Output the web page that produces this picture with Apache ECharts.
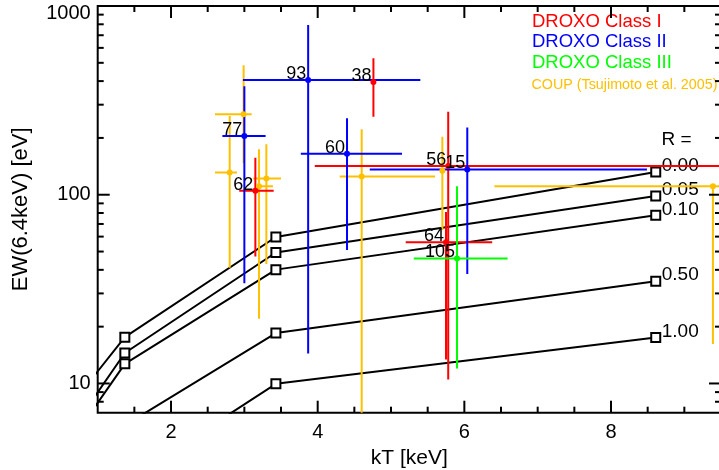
<!DOCTYPE html>
<html>
<head>
<meta charset="utf-8">
<script src="https://cdn.jsdelivr.net/npm/echarts@6/dist/echarts.min.js"></script>
<style>
  html, body { margin: 0; padding: 0; background: #fff; }
  #chart { width: 719px; height: 470px; }
</style>
</head>
<body>
<div id="chart"></div>
<script>
// rows: kT, kT lo, kT hi, EW, EW lo, EW hi, source id
var classI = [
  [4.76, 4.76, 4.76, 396, 259, 528, '38'],
  [3.15, 2.93, 3.40, 105, 47, 157, '62'],
  [5.78, 3.96, 12.0, 142, 10.5, 275, '56'],
  [5.75, 5.20, 6.38, 56, 13.4, 81, '64']
];
var classII = [
  [3.87, 2.98, 5.40, 405, 14.4, 793, '93'],
  [3.00, 2.70, 3.29, 205, 34, 376, '77'],
  [4.40, 3.77, 5.15, 165, 51, 254, '60'],
  [6.04, 4.71, 8.49, 136, 38, 227, '15']
];
var classIII = [
  [5.90, 5.31, 6.59, 46, 12, 111, '105']
];
var coup = [
  [2.99, 2.60, 3.10, 267, 147, 486],
  [2.80, 2.60, 2.90, 131, 41, 261],
  [3.30, 3.12, 3.50, 122, 43, 185],
  [3.20, 3.17, 3.39, 111, 22, 174],
  [4.60, 4.30, 5.60, 125, 5, 222],
  [5.70, 5.70, 5.70, 134, 65, 203],
  [9.39, 6.41, 12.0, 111, 16.2, 111]
];
// fluorescence models, kT of 10, 16, 40, 100 MK
var modelKT = [0.86, 1.37, 3.43, 8.61];
var modelR = ['0.00', '0.05', '0.10', '0.50', '1.00'];
var modelEW = [
  [9.9, 17.6, 59.7, 132],
  [7.5, 14.5, 49.4, 98.5],
  [6.6, 12.7, 40.1, 77.8],
  [3.2, 6.0, 18.5, 34.8],
  [1.6, 3.0, 9.96, 17.5]
];
var xMajorTicks = [2, 4, 6, 8];
var xMinorTicks = [1.5, 2.5, 3, 3.5, 4.5, 5, 5.5, 6.5, 7, 7.5, 8.5, 9];
var yMajorTicks = [10, 100, 1000];
var yMinorTicks = [8, 9, 20, 30, 40, 50, 60, 70, 80, 90, 200, 300, 400, 500, 600, 700, 800, 900];

var X_MIN = 1, X_MAX = 9.5, Y_MIN = 7, Y_MAX = 1000;
var FONT = '"Liberation Sans", Arial, sans-serif';
var RED = '#ff0000', BLUE = '#0000ff', GREEN = '#00ff00', GOLD = '#ffc000';

function errSeries(rows, color) {
  return {
    type: 'custom', clip: true, silent: true, z: 3,
    data: rows.map(function (r) { return r.slice(0, 6); }),
    encode: { x: [0, 1, 2], y: [3, 4, 5] },
    renderItem: function (params, api) {
      var p = api.coord([api.value(0), api.value(3)]);
      var xl = api.coord([api.value(1), api.value(3)]);
      var xh = api.coord([api.value(2), api.value(3)]);
      var yl = api.coord([api.value(0), api.value(4)]);
      var yh = api.coord([api.value(0), api.value(5)]);
      var st = { stroke: color, lineWidth: 2 };
      return { type: 'group', children: [
        { type: 'line', shape: { x1: xl[0], y1: p[1], x2: xh[0], y2: p[1] }, style: st },
        { type: 'line', shape: { x1: p[0], y1: yl[1], x2: p[0], y2: yh[1] }, style: st }
      ] };
    }
  };
}

function pointSeries(rows, color, labelled) {
  return {
    type: 'scatter', symbol: 'circle', symbolSize: 6, z: 4, silent: true,
    itemStyle: { color: color, opacity: 1 },
    data: rows.map(function (r) { return { value: [r[0], r[3]], name: r[6] || '' }; }),
    label: {
      show: labelled, position: 'left', distance: 0, offset: [1, -6], formatter: '{b}',
      color: '#000', fontSize: 18, fontFamily: FONT
    }
  };
}

function tickSeries(values, dir, len) {
  return {
    type: 'custom', clip: false, silent: true, z: 6,
    data: values.map(function (v) { return dir === 'x' ? [v, Y_MIN] : [X_MIN, v]; }),
    encode: { x: 0, y: 1 },
    renderItem: function (params, api) {
      var st = { stroke: '#000', lineWidth: 2 };
      var a, b;
      if (dir === 'x') {
        a = api.coord([api.value(0), Y_MIN]);
        b = api.coord([api.value(0), Y_MAX]);
        return { type: 'group', children: [
          { type: 'line', shape: { x1: a[0], y1: a[1], x2: a[0], y2: a[1] - len }, style: st },
          { type: 'line', shape: { x1: b[0], y1: b[1], x2: b[0], y2: b[1] + len }, style: st }
        ] };
      }
      a = api.coord([X_MIN, api.value(1)]);
      b = api.coord([X_MAX, api.value(1)]);
      return { type: 'group', children: [
        { type: 'line', shape: { x1: a[0], y1: a[1], x2: a[0] + len, y2: a[1] }, style: st },
        { type: 'line', shape: { x1: b[0], y1: b[1], x2: b[0] - len, y2: b[1] }, style: st }
      ] };
    }
  };
}

var modelSeries = modelEW.map(function (ew, i) {
  return {
    type: 'line', z: 2, silent: true, clip: true,
    symbol: 'rect', symbolSize: 9, showAllSymbol: true,
    lineStyle: { color: '#000', width: 2 },
    itemStyle: { color: '#fff', borderColor: '#000', borderWidth: 2 },
    data: ew.map(function (v, j) {
      return j === 0 ? { value: [modelKT[j], v], symbol: 'none' } : [modelKT[j], v];
    }),
    endLabel: {
      show: true, formatter: modelR[i], distance: 6, offset: [0, -6],
      color: '#000', fontSize: 19, fontFamily: FONT
    }
  };
});

var chart = echarts.init(document.getElementById('chart'), null, { renderer: 'canvas' });
chart.setOption({
  animation: false,
  backgroundColor: '#fff',
  grid: {
    left: 97.7, top: 6, width: 623.3, height: 406.7, outerBoundsMode: 'none',
    show: true, borderColor: '#000', borderWidth: 2, backgroundColor: 'transparent'
  },
  xAxis: {
    type: 'value', min: X_MIN, max: X_MAX,
    name: 'kT [keV]', nameLocation: 'middle', nameGap: 33,
    nameTextStyle: { fontSize: 21, color: '#000', fontFamily: FONT },
    axisLine: { show: false }, axisTick: { show: false }, splitLine: { show: false },
    axisLabel: { customValues: xMajorTicks, fontSize: 20, color: '#000', margin: 10, fontFamily: FONT }
  },
  yAxis: {
    type: 'log', logBase: 10, min: Y_MIN, max: Y_MAX,
    name: 'EW(6.4keV) [eV]', nameLocation: 'middle', nameGap: 66,
    nameTextStyle: { fontSize: 22, color: '#000', fontFamily: FONT },
    axisLine: { show: false }, axisTick: { show: false }, splitLine: { show: false },
    minorTick: { show: false },
    axisLabel: {
      showMinLabel: false, fontSize: 20, color: '#000', margin: 7, fontFamily: FONT,
      formatter: function (v) {
        var s = String(Math.round(v));
        return v >= 999 ? '{top|' + s + '}' : s;
      },
      rich: { top: { padding: [14, 0, 0, 0], fontSize: 20, color: '#000', fontFamily: FONT } }
    }
  },
  graphic: [
    { type: 'text', style: { x: 532, y: 22, text: 'DROXO Class I', fill: RED, font: '18.5px ' + FONT, verticalAlign: 'middle' } },
    { type: 'text', style: { x: 532, y: 42, text: 'DROXO Class II', fill: BLUE, font: '18.5px ' + FONT, verticalAlign: 'middle' } },
    { type: 'text', style: { x: 532, y: 62.5, text: 'DROXO Class III', fill: GREEN, font: '18.5px ' + FONT, verticalAlign: 'middle' } },
    { type: 'text', style: { x: 531.5, y: 85, text: 'COUP (Tsujimoto et al. 2005)', fill: GOLD, font: '14.3px ' + FONT, verticalAlign: 'middle' } },
    { type: 'text', style: { x: 661.5, y: 140, text: 'R =', fill: '#000', font: '19px ' + FONT, verticalAlign: 'middle' } }
  ],
  series: modelSeries.concat([
    errSeries(coup, GOLD),
    errSeries(classI, RED),
    errSeries(classII, BLUE),
    errSeries(classIII, GREEN),
    pointSeries(coup, GOLD, false),
    pointSeries(classI, RED, true),
    pointSeries(classII, BLUE, true),
    pointSeries(classIII, GREEN, true),
    tickSeries(xMajorTicks, 'x', 12),
    tickSeries(xMinorTicks, 'x', 6),
    tickSeries(yMajorTicks, 'y', 12),
    tickSeries(yMinorTicks, 'y', 6)
  ])
});
</script>
</body>
</html>
